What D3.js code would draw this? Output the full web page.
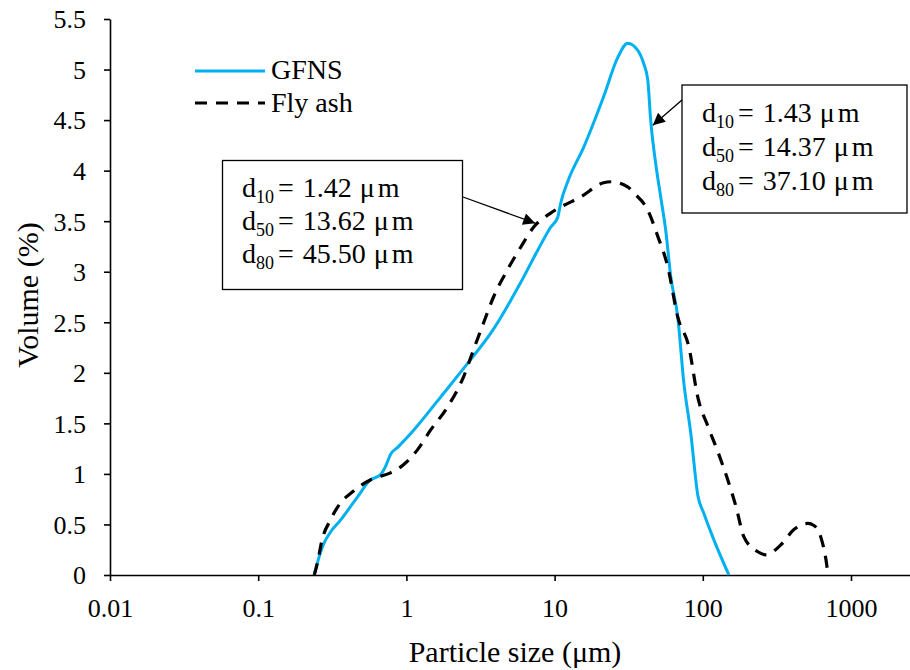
<!DOCTYPE html>
<html>
<head>
<meta charset="utf-8">
<script src="https://cdn.jsdelivr.net/npm/d3@7"></script>
<style>
  body { margin: 0; background: #fff; }
  svg { display: block; }
</style>
</head>
<body>
<svg id="chart" width="910" height="670"></svg>
<script>
// ---- data ----
const gfnsSize = [0.239, 0.254, 0.275, 0.306, 0.358, 0.467, 0.571, 0.667, 0.721, 0.780, 0.883, 1.115, 1.70, 2.71, 3.70, 5.89, 7.68, 9.40, 10.5, 11.0, 12.4, 15.7, 21.4, 26.7, 31.1, 36.4, 39.9, 42.5, 44.5, 48.1, 52.0, 56.2, 60.8, 67.8, 74.5, 83.0, 92.5, 101.6, 118.6, 150];
const gfnsVol  = [0, 0.15, 0.30, 0.42, 0.54, 0.77, 0.94, 0.99, 1.07, 1.19, 1.27, 1.43, 1.76, 2.13, 2.39, 2.89, 3.21, 3.44, 3.54, 3.68, 3.91, 4.23, 4.73, 5.12, 5.26, 5.19, 5.06, 4.90, 4.50, 4.07, 3.74, 3.41, 2.95, 2.55, 1.90, 1.40, 0.79, 0.61, 0.35, 0];

const flySize = [0.239, 0.251, 0.270, 0.306, 0.358, 0.431, 0.571, 0.647, 0.780, 0.955, 1.19, 1.45, 1.89, 2.43, 2.84, 3.31, 3.87, 4.81, 5.89, 7.21, 9.40, 11.0, 15.0, 21.4, 23.9, 31.1, 34.2, 42.5, 49.7, 58.0, 67.8, 80.4, 92.5, 109, 127, 149, 168, 189, 235, 267, 337, 412, 512, 562, 627, 678, 700];
const flyVol  = [0, 0.12, 0.35, 0.54, 0.71, 0.82, 0.94, 0.97, 1.01, 1.09, 1.24, 1.43, 1.66, 1.96, 2.23, 2.49, 2.75, 3.02, 3.24, 3.44, 3.58, 3.64, 3.74, 3.88, 3.89, 3.84, 3.78, 3.61, 3.35, 3.05, 2.55, 2.26, 1.76, 1.46, 1.21, 0.92, 0.67, 0.38, 0.23, 0.20, 0.30, 0.45, 0.51, 0.49, 0.37, 0.15, 0];

const xTicks = [0.01, 0.1, 1, 10, 100, 1000];
const xTickLabels = ["0.01", "0.1", "1", "10", "100", "1000"];
const yTicks = [0, 0.5, 1, 1.5, 2, 2.5, 3, 3.5, 4, 4.5, 5, 5.5];
const yTickLabels = ["0", "0.5", "1", "1.5", "2", "2.5", "3", "3.5", "4", "4.5", "5", "5.5"];

const seriesNames = ["GFNS", "Fly ash"];
const flyLabels  = [["10", "1.42"], ["50", "13.62"], ["80", "45.50"]];
const gfnsLabels = [["10", "1.43"], ["50", "14.37"], ["80", "37.10"]];
const flyArrowAt  = [7.4, 3.48];   // data point the fly ash note points at
const gfnsArrowAt = [46.0, 4.45];  // data point the GFNS note points at

// ---- layout ----
const FONT = "'Liberation Serif', 'Times New Roman', Times, serif";
const svg = d3.select("#chart").attr("font-family", FONT);
const padLeft = 110, padBottom = 575, padTop = 19, decade = 148.2;
const x = d3.scaleLog().domain([0.01, 10000]).range([padLeft, padLeft + 6 * decade]);
const y = d3.scaleLinear().domain([0, 5.5]).range([padBottom, padTop]);
const TICK_FS = 26, TITLE_FS = 30, LEG_FS = 28, NOTE_FS = 28;

// axes
const xAxis = svg.append("g").attr("transform", `translate(0,${padBottom})`)
  .call(d3.axisBottom(x).tickValues(xTicks).tickFormat((d, i) => xTickLabels[i]).tickSize(6).tickSizeOuter(0));
const yAxis = svg.append("g").attr("transform", `translate(${padLeft},0)`)
  .call(d3.axisLeft(y).tickValues(yTicks).tickFormat((d, i) => yTickLabels[i]).tickSize(6).tickSizeOuter(0));
[xAxis, yAxis].forEach(g => {
  g.attr("font-family", FONT).attr("font-size", TICK_FS);
  g.selectAll("path, line").attr("stroke", "#000").attr("stroke-width", 1.6);
  g.selectAll("text").attr("fill", "#000");
});
xAxis.selectAll("text").attr("dy", null).attr("y", 42);
yAxis.selectAll("text").attr("x", -24).attr("dy", "0.34em");

// axis titles
svg.append("text").attr("x", 515).attr("y", 662)
  .attr("text-anchor", "middle").attr("font-size", TITLE_FS).text("Particle size (μm)");
svg.append("text").attr("transform", `translate(38,295) rotate(-90)`)
  .attr("text-anchor", "middle").attr("font-size", TITLE_FS).text("Volume (%)");

// lines
const line = d3.line().x(d => x(d[0])).y(d => y(d[1])).curve(d3.curveMonotoneX);
const flyData = flySize.map((s, i) => [s, flyVol[i]]);
const gfnsData = gfnsSize.map((s, i) => [s, gfnsVol[i]]);

svg.append("path").datum(gfnsData).attr("d", line)
  .attr("fill", "none").attr("stroke", "#00B0F0").attr("stroke-width", 3);
svg.append("path").datum(flyData).attr("d", line)
  .attr("fill", "none").attr("stroke", "#000").attr("stroke-width", 3.2)
  .attr("stroke-dasharray", "12,9");

// legend
const lg = svg.append("g");
lg.append("line").attr("x1", 195).attr("x2", 265).attr("y1", 71).attr("y2", 71)
  .attr("stroke", "#00B0F0").attr("stroke-width", 3);
lg.append("line").attr("x1", 195).attr("x2", 265).attr("y1", 103).attr("y2", 103)
  .attr("stroke", "#000").attr("stroke-width", 3.2).attr("stroke-dasharray", "12,9");
lg.append("text").attr("x", 271).attr("y", 79).attr("font-size", LEG_FS).text(seriesNames[0]);
lg.append("text").attr("x", 271).attr("y", 112).attr("font-size", LEG_FS).text(seriesNames[1]);

// arrow marker
svg.append("defs").append("marker").attr("id", "arr")
  .attr("viewBox", "0 0 10 10").attr("refX", 10).attr("refY", 5)
  .attr("markerWidth", 17).attr("markerHeight", 12).attr("markerUnits", "userSpaceOnUse")
  .attr("orient", "auto")
  .append("path").attr("d", "M0,0 L10,5 L0,10 Z").attr("fill", "#000");

function note(bx, by, bw, bh, tx, ty0, lh, labels) {
  svg.append("rect").attr("x", bx).attr("y", by).attr("width", bw).attr("height", bh)
    .attr("fill", "#fff").attr("stroke", "#000").attr("stroke-width", 1.3);
  labels.forEach((l, i) => {
    const t = svg.append("text").attr("x", tx).attr("y", ty0 + i * lh).attr("font-size", NOTE_FS);
    t.append("tspan").text("d");
    t.append("tspan").attr("font-size", 18).attr("dy", 6).text(l[0]);
    t.append("tspan").attr("dy", -6).attr("dx", 4).text("=");
    t.append("tspan").attr("dx", 9).text(l[1]);
    t.append("tspan").attr("dx", 8).text("μ");
    t.append("tspan").attr("dx", 3).text("m");
  });
}

note(222.5, 160.5, 240, 129, 242, 197, 33, flyLabels);
note(682, 85, 225, 128, 702, 122, 34, gfnsLabels);

// arrows
svg.append("line").attr("x1", 463).attr("y1", 197)
  .attr("x2", x(flyArrowAt[0])).attr("y2", y(flyArrowAt[1]))
  .attr("stroke", "#000").attr("stroke-width", 1.3).attr("marker-end", "url(#arr)");
svg.append("line").attr("x1", 682).attr("y1", 100)
  .attr("x2", x(gfnsArrowAt[0])).attr("y2", y(gfnsArrowAt[1]))
  .attr("stroke", "#000").attr("stroke-width", 1.3).attr("marker-end", "url(#arr)");
</script>
</body>
</html>
